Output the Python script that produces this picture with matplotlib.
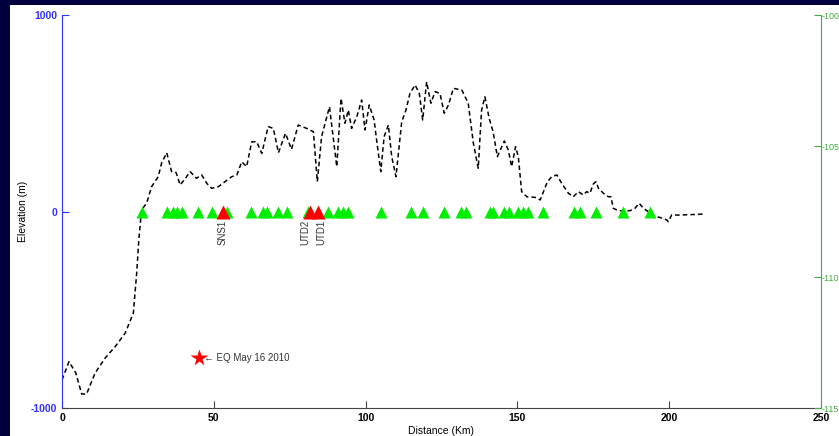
import matplotlib.pyplot as plt
from matplotlib.patches import Rectangle

plt.rcParams["axes.unicode_minus"] = False

# elevation profile (distance km, elevation m)
dist = [0, 2.3, 4.5, 6.5, 8.1, 10.9, 14.2, 17.5, 20.8, 23.5, 24.6, 25.3, 26.2, 27.9,
        29.5, 31.7, 32.8, 34.5, 36.1, 37.6, 38.9, 40.5, 42.2, 44.3, 46.0, 47.7, 49.3,
        51.5, 53.7, 55.9, 57.6, 59.2, 60.8, 62.5, 64.1, 65.8, 67.9, 69.6, 71.3, 73.6,
        75.6, 77.8, 80.6, 82.8, 84.1, 85.5, 88.1, 90.5, 91.9, 93.2, 94.3, 95.4, 97.1,
        98.7, 99.8, 101.2, 102.8, 103.7, 105.0, 106.1, 107.5, 108.6, 110.0, 111.9,
        113.3, 114.6, 116.3, 117.7, 118.8, 120.1, 121.5, 122.9, 124.5, 125.9, 127.3,
        128.9, 131.7, 133.8, 135.5, 137.1, 138.2, 139.3, 140.7, 142.0, 143.4, 145.7,
        147.0, 148.1, 149.4, 150.3, 151.4, 153.1, 155.8, 157.5, 159.9, 161.3, 163.0,
        164.6, 166.8, 168.4, 170.1, 171.7, 172.8, 173.9, 175.0, 175.9, 176.7, 178.3,
        180.0, 180.8, 181.6, 183.3, 187.1, 188.7, 190.1, 191.5, 193.1, 194.8, 196.9,
        199.2, 199.7, 200.8, 203.6, 211.8]
elev = [-857, -764, -820, -929, -929, -822, -746, -688, -619, -517, -313, -145, 8, 43,
        126, 177, 246, 299, 203, 198, 135, 165, 203, 169, 186, 143, 118,
        126, 152, 177, 186, 253, 228, 355, 355, 296, 432, 423, 299, 398,
        316, 440, 423, 406, 152, 381, 533, 228, 576, 449, 516, 423, 482,
        567, 415, 542, 466, 355, 203, 381, 440, 279, 177, 457,
        516, 601, 644, 601, 466, 660, 551, 610, 601, 500, 542,
        627, 618, 551, 347, 220, 516, 584, 474, 406, 279, 359,
        313, 228, 330, 279, 101, 75, 72, 59, 152, 177, 186,
        143, 93, 75, 101, 84, 101, 93, 140, 152, 118, 93,
        75, 75, 16, 4, 4, 16, 42, 16, -1, -23, -30,
        -43, -52, -18, -18, -13]

# stations along the profile
green_km = [26.2, 34.7, 36.5, 37.8, 39.4, 44.9, 49.3, 54.4, 62.1, 66.3, 67.4, 71.3,
            74.0, 81.1, 87.7, 91.0, 92.7, 94.3, 105.0, 115.0, 119.0, 125.9, 131.4,
            133.1, 141.0, 141.9, 145.6, 147.3, 150.3, 151.7, 153.4, 158.3, 168.6,
            170.6, 175.9, 184.9, 193.7]
red_km = [53.1, 81.7, 84.4]
red_names = ["SNS1", "UTD2", "UTD1"]
eq_km, eq_elev = 45.1, -746
eq_label = "EQ May 16 2010"

fig = plt.figure(figsize=(8.39, 4.36), dpi=100, facecolor="#000040")
fig.add_artist(Rectangle((10 / 839, 0), 1, 431 / 436, transform=fig.transFigure,
                         facecolor="white", edgecolor="none", zorder=-10))
ax = fig.add_axes([62 / 839, 28 / 436, 759 / 839, 393 / 436])
ax.set_facecolor("white")

ax.plot(dist, elev, "k--", lw=1.1, dashes=(3, 2))
ax.plot(green_km, [0] * len(green_km), "^", color="#00ee00", ms=8.5, mec="none")
ax.plot(red_km, [0] * len(red_km), "^", color="red", ms=10, mec="none")
shift = [-0.3, -1.7, 1.0]  # spread the labels of the two close stations
for km, name, dx in zip(red_km, red_names, shift):
    ax.text(km + dx, -40, name, rotation=90, ha="center", va="top", fontsize=7,
            family="Liberation Sans", color="#333333")
ax.plot(eq_km, eq_elev, "*", color="red", ms=13, mec="none")
ax.text(eq_km + 1.8, eq_elev, "\u2190 " + eq_label, va="center", fontsize=7,
        family="Liberation Sans", color="#333333")

ax.set_xlim(0, 250)
ax.set_ylim(-1000, 1000)
ax.set_xticks([0, 50, 100, 150, 200, 250])
ax.set_yticks([-1000, 0, 1000])
ax.tick_params(axis="both", direction="in", length=5)
ax.tick_params(axis="y", colors="#3333ff", labelsize=7.5)
ax.tick_params(axis="x", colors="#444444", labelcolor="black", labelsize=7.5)
for lab in ax.get_yticklabels() + ax.get_xticklabels():
    lab.set_fontweight("bold")
    lab.set_family("Liberation Sans")
ax.spines["left"].set_color("#3333ff")
ax.spines["bottom"].set_color("#444444")
ax.spines["top"].set_visible(False)
ax.spines["right"].set_visible(False)
ax.set_xlabel("Distance (Km)", fontsize=7.5, family="Liberation Sans", labelpad=2)
ax.set_ylabel("Elevation (m)", fontsize=7.5, family="Liberation Sans")
ax.yaxis.set_label_coords(-0.045, 0.5)

ax2 = ax.twinx()
ax2.set_ylim(-115, -100)
ax2.set_yticks([-115, -110, -105, -100])
ax2.tick_params(axis="y", direction="in", length=5, colors="#44aa44", labelsize=6.5,
                pad=0.5)
for lab in ax2.get_yticklabels():
    lab.set_family("Liberation Sans")
for s in ["left", "top", "bottom"]:
    ax2.spines[s].set_visible(False)
ax2.spines["right"].set_color("#44aa44")

fig.savefig("out.png", dpi=100, facecolor=fig.get_facecolor())
